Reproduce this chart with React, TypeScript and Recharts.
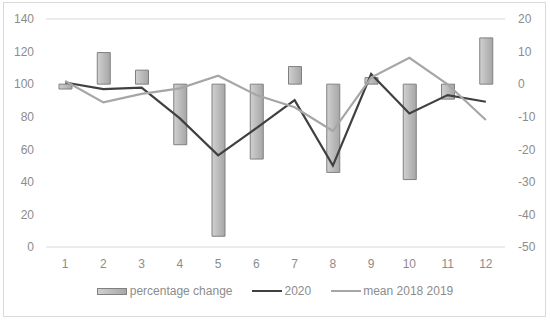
import React from 'react';
import { ComposedChart, Bar, Line, XAxis, YAxis, CartesianGrid, Legend } from 'recharts';

const months = ['1', '2', '3', '4', '5', '6', '7', '8', '9', '10', '11', '12'];
const percentageChange = [-1.5, 9.7, 4.3, -18.6, -46.7, -23, 5.4, -27.1, 2.0, -29.3, -4.6, 14.2];
const values2020 = [101, 97, 97.8, 79, 56.3, 73, 90.2, 50, 106.2, 82, 93.3, 89.2];
const mean20182019 = [101.9, 88.8, 94, 97.4, 105.2, 93.3, 85.8, 71.2, 104, 116.2, 99.9, 78];
const leftTicks = [0, 20, 40, 60, 80, 100, 120, 140];
const rightTicks = [-50, -40, -30, -20, -10, 0, 10, 20];

const data = months.map((m, i) => ({
  month: m,
  change: percentageChange[i],
  y2020: values2020[i],
  mean: mean20182019[i],
}));

const tickStyle = { fontSize: 12, fill: '#8c8c8c', fontFamily: 'Liberation Sans, Arial, sans-serif' };

// legend drawn by hand so the icons look like the excel ones
const renderLegend = (props: any) => {
  const items = [
    { label: 'percentage change', kind: 'bar' },
    { label: '2020', kind: 'dark' },
    { label: 'mean 2018 2019', kind: 'light' },
  ];
  return (
    <div style={{ display: 'flex', justifyContent: 'center', alignItems: 'center', gap: 20, ...tickStyle, color: '#8c8c8c', fontSize: 12 }}>
      {items.map((it) => (
        <div key={it.label} style={{ display: 'flex', alignItems: 'center' }}>
          {it.kind === 'bar' ? (
            <div style={{ width: 28, height: 5, background: 'linear-gradient(to right, #cfcfcf, #a8a8a8)', border: '1px solid #808080', marginRight: 3 }} />
          ) : (
            <div style={{ width: 30, height: 2, background: it.kind === 'dark' ? '#404040' : '#a6a6a6', marginRight: 2 }} />
          )}
          <span>{it.label}</span>
        </div>
      ))}
    </div>
  );
};

export default function App() {
  return (
    <div style={{ position: 'absolute', left: 0, top: 0, width: 550, height: 321, background: '#fff' }}>
      <div style={{ position: 'absolute', left: 3, top: 2, width: 541, height: 313, border: '1px solid #d9d9d9' }} />
      <ComposedChart
        width={550}
        height={321}
        data={data}
        margin={{ top: 19, right: 0, left: 0, bottom: 17 }}
      >
        <defs>
          <linearGradient id="barGrad" x1="0" y1="0" x2="1" y2="0">
            <stop offset="0%" stopColor="#d0d0d0" />
            <stop offset="100%" stopColor="#a6a6a6" />
          </linearGradient>
        </defs>
        <CartesianGrid vertical={false} stroke="#d9d9d9" strokeWidth={1} />
        <XAxis
          dataKey="month"
          axisLine={false}
          tickLine={false}
          tickSize={4}
          tickMargin={8}
          height={37}
          tick={tickStyle}
        />
        <YAxis
          yAxisId="left"
          domain={[0, 140]}
          ticks={leftTicks}
          axisLine={false}
          tickLine={false}
          tickSize={4}
          tickMargin={8}
          width={46}
          tick={tickStyle}
        />
        <YAxis
          yAxisId="right"
          orientation="right"
          domain={[-50, 20]}
          ticks={rightTicks}
          axisLine={false}
          tickLine={false}
          tickSize={4}
          tickMargin={9}
          width={45}
          tick={{ ...tickStyle, textAnchor: 'start' }}
        />
        <Legend verticalAlign="bottom" height={20} content={renderLegend} />
        <Bar
          yAxisId="right"
          dataKey="change"
          name="percentage change"
          barSize={13}
          fill="url(#barGrad)"
          stroke="#808080"
          strokeWidth={1}
          isAnimationActive={false}
        />
        <Line
          yAxisId="left"
          dataKey="y2020"
          name="2020"
          stroke="#404040"
          strokeWidth={2.2}
          dot={false}
          type="linear"
          isAnimationActive={false}
        />
        <Line
          yAxisId="left"
          dataKey="mean"
          name="mean 2018 2019"
          stroke="#a6a6a6"
          strokeWidth={2.2}
          dot={false}
          type="linear"
          isAnimationActive={false}
        />
      </ComposedChart>
    </div>
  );
}
